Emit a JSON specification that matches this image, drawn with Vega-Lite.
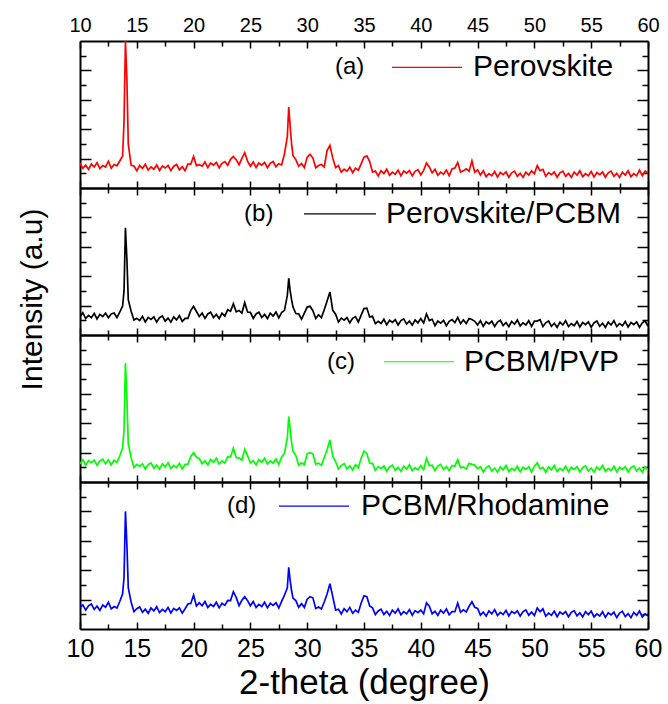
{
"$schema": "https://vega.github.io/schema/vega-lite/v6.json",
"background": "white",
"padding": {"left": 16, "top": 15, "right": 10, "bottom": 5},
"bounds": "flush",
"spacing": 0,
"config": {
 "font": "Liberation Sans",
 "view": {"stroke": null},
 "axis": {"domainColor": "black", "domainWidth": 2, "tickColor": "black", "tickWidth": 1.5, "grid": false, "labelColor": "black", "titleColor": "black", "labelFont": "Liberation Sans", "titleFont": "Liberation Sans", "titleFontWeight": "normal", "labelFlush": false}
},
"datasets": {
 "xrd": [
{"x":10,"a":17.0,"b":12.3,"c":12.3,"d":14.6},
{"x":10.25,"a":13.4,"b":15.2,"c":15.2,"d":16.4},
{"x":10.5,"a":15.5,"b":11.2,"c":11.4,"d":12.8},
{"x":10.75,"a":12.7,"b":13.3,"c":14.5,"d":15.8},
{"x":11,"a":16.3,"b":11.8,"c":13.1,"d":17.0},
{"x":11.25,"a":14.3,"b":14.7,"c":14.9,"d":13.4},
{"x":11.5,"a":17.2,"b":10.9,"c":11.3,"d":15.5},
{"x":11.75,"a":13.2,"b":14.0,"c":14.3,"d":12.7},
{"x":12,"a":15.3,"b":12.6,"c":15.5,"d":16.3},
{"x":12.25,"a":14.3,"b":14.9,"c":12.4,"d":14.8},
{"x":12.5,"a":18.2,"b":11.8,"c":15.0,"d":18.2},
{"x":12.75,"a":13.4,"b":14.3,"c":11.7,"d":13.7},
{"x":13,"a":16.0,"b":15.0,"c":14.8,"d":15.3},
{"x":13.25,"a":15.1,"b":11.9,"c":13.3,"d":14.3},
{"x":13.5,"a":18.4,"b":15.5,"c":17.7,"d":18.7},
{"x":13.75,"a":21.8,"b":19.7,"c":23.2,"d":23.9},
{"x":13.875,"a":45,"b":30,"c":35,"d":35},
{"x":14,"a":100,"b":73,"c":81,"d":80},
{"x":14.125,"a":75,"b":52,"c":58,"d":58},
{"x":14.25,"a":30,"b":24,"c":26,"d":28},
{"x":14.5,"a":15.4,"b":16.2,"c":16.7,"d":18.4},
{"x":14.75,"a":15.0,"b":10.2,"c":9.9,"d":11.8},
{"x":15,"a":11.7,"b":11.3,"c":12.0,"d":13.8},
{"x":15.25,"a":15.3,"b":9.8,"c":10.6,"d":15.0},
{"x":15.5,"a":13.3,"b":12.7,"c":12.4,"d":11.4},
{"x":15.75,"a":16.2,"b":8.9,"c":8.8,"d":13.5},
{"x":16,"a":12.2,"b":12.0,"c":11.8,"d":10.7},
{"x":16.25,"a":14.3,"b":10.6,"c":13.0,"d":14.3},
{"x":16.5,"a":12.8,"b":12.4,"c":9.4,"d":12.3},
{"x":16.75,"a":15.7,"b":8.8,"c":11.5,"d":15.2},
{"x":17,"a":11.9,"b":11.8,"c":8.7,"d":11.2},
{"x":17.25,"a":15.0,"b":13.0,"c":12.3,"d":13.3},
{"x":17.5,"a":13.6,"b":9.4,"c":10.3,"d":11.8},
{"x":17.75,"a":15.4,"b":11.5,"c":13.2,"d":14.7},
{"x":18,"a":11.8,"b":8.7,"c":9.2,"d":10.9},
{"x":18.25,"a":14.8,"b":12.3,"c":11.3,"d":14.0},
{"x":18.5,"a":16.0,"b":10.3,"c":9.8,"d":12.6},
{"x":18.75,"a":12.4,"b":13.2,"c":12.7,"d":14.4},
{"x":19,"a":14.5,"b":9.2,"c":8.9,"d":10.8},
{"x":19.25,"a":11.7,"b":11.3,"c":12.0,"d":13.8},
{"x":19.5,"a":16.3,"b":11.3,"c":12.1,"d":17.0},
{"x":19.75,"a":16.3,"b":16.7,"c":17.4,"d":17.4},
{"x":20,"a":21.5,"b":19.5,"c":20.0,"d":23.1},
{"x":20.25,"a":15.2,"b":16.0,"c":16.8,"d":15.7},
{"x":20.5,"a":15.8,"b":12.6,"c":16.0,"d":17.8},
{"x":20.75,"a":14.8,"b":14.9,"c":12.4,"d":15.8},
{"x":21,"a":17.7,"b":11.3,"c":14.5,"d":18.7},
{"x":21.25,"a":13.9,"b":14.3,"c":11.7,"d":14.7},
{"x":21.5,"a":17.0,"b":15.5,"c":15.3,"d":16.8},
{"x":21.75,"a":15.6,"b":11.9,"c":13.3,"d":15.3},
{"x":22,"a":17.4,"b":14.0,"c":16.2,"d":18.2},
{"x":22.25,"a":13.8,"b":11.2,"c":12.2,"d":14.4},
{"x":22.5,"a":16.8,"b":14.8,"c":14.3,"d":17.5},
{"x":22.75,"a":18.0,"b":12.8,"c":12.8,"d":16.1},
{"x":23,"a":15.4,"b":17.2,"c":17.2,"d":19.4},
{"x":23.25,"a":19.5,"b":16.2,"c":16.9,"d":19.3},
{"x":23.5,"a":21.5,"b":21.3,"c":23.0,"d":25.4},
{"x":23.75,"a":19.3,"b":15.8,"c":16.6,"d":21.5},
{"x":24,"a":15.8,"b":16.7,"c":16.4,"d":15.9},
{"x":24.25,"a":20.2,"b":14.9,"c":14.8,"d":19.5},
{"x":24.5,"a":24.0,"b":22.0,"c":22.3,"d":22.0},
{"x":24.75,"a":18.3,"b":15.6,"c":18.0,"d":19.3},
{"x":25,"a":14.8,"b":15.4,"c":12.9,"d":15.8},
{"x":25.25,"a":17.7,"b":11.3,"c":14.5,"d":18.7},
{"x":25.5,"a":13.9,"b":14.3,"c":11.7,"d":14.7},
{"x":25.75,"a":17.0,"b":15.5,"c":15.3,"d":16.8},
{"x":26,"a":15.6,"b":11.9,"c":13.3,"d":15.3},
{"x":26.25,"a":17.4,"b":14.0,"c":16.2,"d":18.2},
{"x":26.5,"a":13.8,"b":11.2,"c":12.2,"d":14.4},
{"x":26.75,"a":16.8,"b":14.8,"c":14.3,"d":17.5},
{"x":27,"a":18.0,"b":12.8,"c":12.8,"d":16.1},
{"x":27.25,"a":14.4,"b":15.7,"c":15.7,"d":17.9},
{"x":27.5,"a":16.5,"b":11.7,"c":11.9,"d":14.3},
{"x":27.75,"a":15.7,"b":15.3,"c":17.0,"d":18.8},
{"x":28,"a":23.3,"b":16.8,"c":19.6,"d":23.0},
{"x":28.25,"a":35,"b":27,"c":30,"d":28},
{"x":28.375,"a":55,"b":38.5,"c":44.6,"d":42},
{"x":28.5,"a":42,"b":30,"c":36,"d":33},
{"x":28.625,"a":30,"b":24,"c":27,"d":26},
{"x":28.75,"a":22,"b":19,"c":21,"d":21},
{"x":29,"a":19.3,"b":14.6,"c":18.0,"d":19.3},
{"x":29.25,"a":14.8,"b":14.4,"c":11.4,"d":14.8},
{"x":29.5,"a":16.7,"b":10.8,"c":13.0,"d":17.2},
{"x":29.75,"a":13.9,"b":14.8,"c":11.7,"d":14.7},
{"x":30,"a":21.0,"b":19.0,"c":19.3,"d":20.3},
{"x":30.25,"a":23.0,"b":19.5,"c":20.0,"d":22.0},
{"x":30.5,"a":20.4,"b":16.5,"c":19.2,"d":21.2},
{"x":30.75,"a":13.8,"b":11.2,"c":12.2,"d":13.9},
{"x":31,"a":15.3,"b":13.8,"c":12.8,"d":15.0},
{"x":31.25,"a":16.0,"b":11.8,"c":11.3,"d":13.6},
{"x":31.5,"a":14.4,"b":17.2,"c":16.7,"d":18.4},
{"x":31.75,"a":25.5,"b":23.2,"c":21.9,"d":23.8},
{"x":32,"a":29.0,"b":29.3,"c":28.7,"d":30.8},
{"x":32.25,"a":20.3,"b":16.8,"c":17.6,"d":22.0},
{"x":32.5,"a":13.8,"b":14.2,"c":13.9,"d":12.9},
{"x":32.75,"a":15.2,"b":8.9,"c":8.8,"d":13.5},
{"x":33,"a":10.7,"b":11.5,"c":11.3,"d":10.2},
{"x":33.25,"a":12.8,"b":10.1,"c":12.5,"d":13.8},
{"x":33.5,"a":11.3,"b":11.9,"c":8.9,"d":11.8},
{"x":33.75,"a":14.2,"b":8.3,"c":11.0,"d":14.7},
{"x":34,"a":10.4,"b":11.3,"c":8.2,"d":10.7},
{"x":34.25,"a":13.5,"b":12.5,"c":11.8,"d":12.8},
{"x":34.5,"a":12.1,"b":8.9,"c":9.8,"d":11.3},
{"x":34.75,"a":16.4,"b":13.5,"c":16.2,"d":17.7},
{"x":35,"a":21.0,"b":18.0,"c":21.0,"d":22.6},
{"x":35.25,"a":21.8,"b":18.3,"c":19.3,"d":22.0},
{"x":35.5,"a":18.0,"b":12.3,"c":12.8,"d":15.6},
{"x":35.75,"a":10.9,"b":12.7,"c":12.7,"d":14.4},
{"x":36,"a":11.5,"b":7.7,"c":7.9,"d":9.8},
{"x":36.25,"a":8.2,"b":9.3,"c":10.5,"d":12.3},
{"x":36.5,"a":11.8,"b":7.8,"c":9.1,"d":13.5},
{"x":36.75,"a":9.8,"b":10.7,"c":10.9,"d":9.9},
{"x":37,"a":12.7,"b":6.9,"c":7.3,"d":12.0},
{"x":37.25,"a":8.7,"b":10.0,"c":10.3,"d":9.2},
{"x":37.5,"a":10.8,"b":8.6,"c":11.5,"d":12.8},
{"x":37.75,"a":9.3,"b":10.4,"c":7.9,"d":10.8},
{"x":38,"a":12.2,"b":6.8,"c":10.0,"d":13.7},
{"x":38.25,"a":8.4,"b":9.8,"c":7.2,"d":9.7},
{"x":38.5,"a":11.5,"b":11.0,"c":10.8,"d":11.8},
{"x":38.75,"a":10.1,"b":7.4,"c":8.8,"d":10.3},
{"x":39,"a":11.9,"b":9.5,"c":11.7,"d":13.2},
{"x":39.25,"a":8.3,"b":6.7,"c":7.7,"d":9.4},
{"x":39.5,"a":11.3,"b":10.3,"c":9.8,"d":12.5},
{"x":39.75,"a":12.5,"b":8.3,"c":8.3,"d":11.1},
{"x":40,"a":8.9,"b":11.2,"c":11.2,"d":12.9},
{"x":40.25,"a":12.0,"b":8.2,"c":8.4,"d":10.3},
{"x":40.5,"a":17.0,"b":14.3,"c":16.0,"d":17.8},
{"x":40.75,"a":14.3,"b":9.8,"c":11.1,"d":15.5},
{"x":41,"a":10.3,"b":10.7,"c":11.4,"d":10.4},
{"x":41.25,"a":12.7,"b":6.4,"c":7.8,"d":12.0},
{"x":41.5,"a":8.7,"b":9.5,"c":10.8,"d":9.2},
{"x":41.75,"a":10.8,"b":8.1,"c":12.0,"d":12.8},
{"x":42,"a":9.3,"b":9.9,"c":8.4,"d":10.8},
{"x":42.25,"a":12.2,"b":6.3,"c":10.5,"d":13.7},
{"x":42.5,"a":8.4,"b":9.3,"c":7.7,"d":9.7},
{"x":42.75,"a":13.0,"b":10.5,"c":11.3,"d":11.8},
{"x":43,"a":13.6,"b":8.4,"c":10.8,"d":11.8},
{"x":43.25,"a":17.4,"b":12.0,"c":15.2,"d":17.7},
{"x":43.5,"a":10.8,"b":7.7,"c":9.7,"d":11.4},
{"x":43.75,"a":11.8,"b":10.3,"c":10.3,"d":13.0},
{"x":44,"a":13.0,"b":7.8,"c":8.8,"d":11.6},
{"x":44.25,"a":11.4,"b":11.2,"c":12.7,"d":15.4},
{"x":44.5,"a":18.5,"b":10.5,"c":12.0,"d":18.5},
{"x":44.75,"a":10.7,"b":9.3,"c":11.5,"d":14.8},
{"x":45,"a":12.3,"b":6.8,"c":9.1,"d":14.0},
{"x":45.25,"a":8.8,"b":9.7,"c":10.4,"d":9.4},
{"x":45.5,"a":11.7,"b":5.9,"c":6.8,"d":11.5},
{"x":45.75,"a":7.7,"b":9.0,"c":9.8,"d":8.7},
{"x":46,"a":9.8,"b":7.6,"c":11.0,"d":12.3},
{"x":46.25,"a":8.3,"b":9.4,"c":7.4,"d":10.3},
{"x":46.5,"a":11.2,"b":5.8,"c":9.5,"d":13.2},
{"x":46.75,"a":7.4,"b":8.8,"c":6.7,"d":9.2},
{"x":47,"a":10.5,"b":10.0,"c":10.3,"d":11.3},
{"x":47.25,"a":9.1,"b":6.4,"c":8.3,"d":9.8},
{"x":47.5,"a":10.9,"b":8.5,"c":11.2,"d":12.7},
{"x":47.75,"a":7.3,"b":5.7,"c":7.2,"d":8.9},
{"x":48,"a":10.3,"b":9.3,"c":9.3,"d":12.0},
{"x":48.25,"a":11.5,"b":7.3,"c":7.8,"d":10.6},
{"x":48.5,"a":7.9,"b":10.2,"c":10.7,"d":12.4},
{"x":48.75,"a":10.0,"b":6.2,"c":6.9,"d":8.8},
{"x":49,"a":7.2,"b":8.3,"c":10.0,"d":11.8},
{"x":49.25,"a":10.8,"b":6.8,"c":8.6,"d":13.0},
{"x":49.5,"a":8.8,"b":9.7,"c":10.4,"d":9.4},
{"x":49.75,"a":11.7,"b":5.9,"c":6.8,"d":11.5},
{"x":50,"a":9.7,"b":9.5,"c":10.8,"d":9.2},
{"x":50.25,"a":15.3,"b":9.5,"c":13.0,"d":14.3},
{"x":50.5,"a":11.8,"b":10.4,"c":8.9,"d":11.8},
{"x":50.75,"a":12.7,"b":5.8,"c":10.0,"d":13.7},
{"x":51,"a":7.9,"b":8.3,"c":6.7,"d":8.7},
{"x":51.25,"a":10.5,"b":9.5,"c":10.3,"d":10.8},
{"x":51.5,"a":9.1,"b":5.9,"c":8.3,"d":9.3},
{"x":51.75,"a":10.9,"b":8.0,"c":11.2,"d":12.2},
{"x":52,"a":7.3,"b":5.2,"c":7.2,"d":8.4},
{"x":52.25,"a":10.3,"b":8.8,"c":9.3,"d":11.5},
{"x":52.5,"a":11.5,"b":6.8,"c":7.8,"d":10.1},
{"x":52.75,"a":7.9,"b":9.7,"c":10.7,"d":11.9},
{"x":53,"a":10.0,"b":5.7,"c":6.9,"d":8.3},
{"x":53.25,"a":7.2,"b":7.8,"c":10.0,"d":11.3},
{"x":53.5,"a":10.8,"b":6.3,"c":8.6,"d":12.5},
{"x":53.75,"a":8.8,"b":9.2,"c":10.4,"d":8.9},
{"x":54,"a":11.7,"b":5.4,"c":6.8,"d":11.0},
{"x":54.25,"a":7.7,"b":8.5,"c":9.8,"d":8.2},
{"x":54.5,"a":9.8,"b":7.1,"c":11.0,"d":11.8},
{"x":54.75,"a":8.3,"b":8.9,"c":7.4,"d":9.8},
{"x":55,"a":11.2,"b":5.3,"c":9.5,"d":12.2},
{"x":55.25,"a":7.4,"b":8.3,"c":6.7,"d":8.2},
{"x":55.5,"a":10.5,"b":9.5,"c":10.3,"d":10.3},
{"x":55.75,"a":9.1,"b":5.9,"c":8.3,"d":8.8},
{"x":56,"a":10.9,"b":8.0,"c":11.2,"d":11.7},
{"x":56.25,"a":7.3,"b":5.2,"c":7.2,"d":7.9},
{"x":56.5,"a":10.3,"b":8.8,"c":9.3,"d":11.0},
{"x":56.75,"a":11.5,"b":6.8,"c":7.8,"d":9.6},
{"x":57,"a":7.9,"b":9.7,"c":10.7,"d":11.4},
{"x":57.25,"a":10.0,"b":5.7,"c":6.9,"d":7.8},
{"x":57.5,"a":7.2,"b":7.8,"c":10.0,"d":10.8},
{"x":57.75,"a":10.8,"b":6.3,"c":8.6,"d":12.0},
{"x":58,"a":8.8,"b":9.2,"c":10.4,"d":8.4},
{"x":58.25,"a":11.7,"b":5.4,"c":6.8,"d":10.5},
{"x":58.5,"a":7.7,"b":8.5,"c":9.8,"d":7.7},
{"x":58.75,"a":9.8,"b":7.1,"c":11.0,"d":11.3},
{"x":59,"a":8.3,"b":8.9,"c":7.4,"d":9.3},
{"x":59.25,"a":12.2,"b":5.3,"c":9.5,"d":12.2},
{"x":59.5,"a":8.4,"b":8.3,"c":6.7,"d":8.2},
{"x":59.75,"a":11.5,"b":9.5,"c":10.3,"d":10.3},
{"x":60,"a":10.1,"b":5.9,"c":8.3,"d":8.8}
 ],
 "tags": [
  {"p":"a","t":"(a)","x":32.45,"y":82},
  {"p":"b","t":"(b)","x":24.44,"y":82.4},
  {"p":"c","t":"(c)","x":31.74,"y":81.8},
  {"p":"d","t":"(d)","x":22.94,"y":83.6}
 ],
 "names": [
  {"p":"a","t":"Perovskite","x":44.6,"y":82},
  {"p":"b","t":"Perovskite/PCBM","x":36.94,"y":82.4},
  {"p":"c","t":"PCBM/PVP","x":43.8,"y":81.8},
  {"p":"d","t":"PCBM/Rhodamine","x":34.74,"y":83.6}
 ],
 "keys": [
  {"p":"a","x":37.46,"x2":43.63,"y":82},
  {"p":"b","x":29.72,"x2":36.06,"y":82.4},
  {"p":"c","x":36.76,"x2":42.92,"y":81.8},
  {"p":"d","x":27.52,"x2":33.68,"y":83.6}
 ]
},
"vconcat": [
 {
  "width": 568, "height": 147,
  "resolve": {"axis": {"x": "independent", "y": "independent"}},
  "layer": [
   {"data": {"name": "xrd"}, "mark": {"type": "line", "color": "#ff0000", "strokeWidth": 1.7, "clip": true},
    "encoding": {
     "x": {"field": "x", "type": "quantitative", "scale": {"domain": [10, 60], "nice": false}, "axis": {"orient": "bottom", "title": null, "labels": false, "values": [10,12.5,15,17.5,20,22.5,25,27.5,30,32.5,35,37.5,40,42.5,45,47.5,50,52.5,55,57.5,60], "tickSize": {"condition": {"test": "datum.value % 5 === 0", "value": -7}, "value": -5}}},
     "y": {"field": "a", "type": "quantitative", "scale": {"domain": [0, 100], "nice": false}, "axis": {"orient": "left", "title": null, "labels": false, "values": [10,20,30,40,50,60,70,80,90], "tickSize": {"condition": {"test": "datum.value % 20 === 0", "value": -11}, "value": -6}}}
    }},
   {"data": {"name": "names"}, "transform": [{"filter": "datum.p === 'a'"}], "mark": {"type": "text", "align": "left", "baseline": "middle", "fontSize": 30, "color": "black"},
    "encoding": {
     "x": {"field": "x", "type": "quantitative", "scale": {"domain": [10, 60], "nice": false}, "axis": {"orient": "top", "title": null, "labelFontSize": 20, "labelPadding": 13, "labelExpr": "datum.value % 5 === 0 ? datum.label : ''", "values": [10,12.5,15,17.5,20,22.5,25,27.5,30,32.5,35,37.5,40,42.5,45,47.5,50,52.5,55,57.5,60], "tickSize": {"condition": {"test": "datum.value % 5 === 0", "value": -7}, "value": -5}}},
     "y": {"field": "y", "type": "quantitative", "scale": {"domain": [0, 100], "nice": false}, "axis": {"orient": "right", "title": null, "labels": false, "values": [10,20,30,40,50,60,70,80,90], "tickSize": {"condition": {"test": "datum.value % 20 === 0", "value": -11}, "value": -6}}},
     "text": {"field": "t"}
    }},
   {"data": {"name": "tags"}, "transform": [{"filter": "datum.p === 'a'"}], "mark": {"type": "text", "align": "left", "baseline": "middle", "fontSize": 24, "color": "black"},
    "encoding": {
     "x": {"field": "x", "type": "quantitative", "axis": null},
     "y": {"field": "y", "type": "quantitative", "axis": null},
     "text": {"field": "t"}
    }},
   {"data": {"name": "keys"}, "transform": [{"filter": "datum.p === 'a'"}], "mark": {"type": "rule", "color": "#ff0000", "strokeWidth": 1.2},
    "encoding": {
     "x": {"field": "x", "type": "quantitative", "axis": null},
     "x2": {"field": "x2"},
     "y": {"field": "y", "type": "quantitative", "axis": null}
    }}
  ]
 },
 {
  "width": 568, "height": 147,
  "resolve": {"axis": {"x": "independent", "y": "independent"}},
  "layer": [
   {"data": {"name": "xrd"}, "mark": {"type": "line", "color": "#000000", "strokeWidth": 1.7, "clip": true},
    "encoding": {
     "x": {"field": "x", "type": "quantitative", "scale": {"domain": [10, 60], "nice": false}, "axis": {"orient": "bottom", "title": null, "labels": false, "values": [10,12.5,15,17.5,20,22.5,25,27.5,30,32.5,35,37.5,40,42.5,45,47.5,50,52.5,55,57.5,60], "tickSize": {"condition": {"test": "datum.value % 5 === 0", "value": -7}, "value": -5}}},
     "y": {"field": "b", "type": "quantitative", "scale": {"domain": [0, 100], "nice": false}, "axis": {"orient": "left", "title": "Intensity (a.u)", "titleFontSize": 30, "titleX": -48, "titleY": 111, "titleAngle": 270, "titleAlign": "center", "titleBaseline": "middle", "labels": false, "values": [10,20,30,40,50,60,70,80,90], "tickSize": {"condition": {"test": "datum.value % 20 === 0", "value": -11}, "value": -6}}}
    }},
   {"data": {"name": "names"}, "transform": [{"filter": "datum.p === 'b'"}], "mark": {"type": "text", "align": "left", "baseline": "middle", "fontSize": 30, "color": "black"},
    "encoding": {
     "x": {"field": "x", "type": "quantitative", "scale": {"domain": [10, 60], "nice": false}, "axis": {"orient": "top", "title": null, "labels": false, "values": [10,12.5,15,17.5,20,22.5,25,27.5,30,32.5,35,37.5,40,42.5,45,47.5,50,52.5,55,57.5,60], "tickSize": {"condition": {"test": "datum.value % 5 === 0", "value": -7}, "value": -5}}},
     "y": {"field": "y", "type": "quantitative", "scale": {"domain": [0, 100], "nice": false}, "axis": {"orient": "right", "title": null, "labels": false, "values": [10,20,30,40,50,60,70,80,90], "tickSize": {"condition": {"test": "datum.value % 20 === 0", "value": -11}, "value": -6}}},
     "text": {"field": "t"}
    }},
   {"data": {"name": "tags"}, "transform": [{"filter": "datum.p === 'b'"}], "mark": {"type": "text", "align": "left", "baseline": "middle", "fontSize": 24, "color": "black"},
    "encoding": {
     "x": {"field": "x", "type": "quantitative", "axis": null},
     "y": {"field": "y", "type": "quantitative", "axis": null},
     "text": {"field": "t"}
    }},
   {"data": {"name": "keys"}, "transform": [{"filter": "datum.p === 'b'"}], "mark": {"type": "rule", "color": "#000000", "strokeWidth": 1.2},
    "encoding": {
     "x": {"field": "x", "type": "quantitative", "axis": null},
     "x2": {"field": "x2"},
     "y": {"field": "y", "type": "quantitative", "axis": null}
    }}
  ]
 },
 {
  "width": 568, "height": 147,
  "resolve": {"axis": {"x": "independent", "y": "independent"}},
  "layer": [
   {"data": {"name": "xrd"}, "mark": {"type": "line", "color": "#00ff00", "strokeWidth": 1.7, "clip": true},
    "encoding": {
     "x": {"field": "x", "type": "quantitative", "scale": {"domain": [10, 60], "nice": false}, "axis": {"orient": "bottom", "title": null, "labels": false, "values": [10,12.5,15,17.5,20,22.5,25,27.5,30,32.5,35,37.5,40,42.5,45,47.5,50,52.5,55,57.5,60], "tickSize": {"condition": {"test": "datum.value % 5 === 0", "value": -7}, "value": -5}}},
     "y": {"field": "c", "type": "quantitative", "scale": {"domain": [0, 100], "nice": false}, "axis": {"orient": "left", "title": null, "labels": false, "values": [10,20,30,40,50,60,70,80,90], "tickSize": {"condition": {"test": "datum.value % 20 === 0", "value": -11}, "value": -6}}}
    }},
   {"data": {"name": "names"}, "transform": [{"filter": "datum.p === 'c'"}], "mark": {"type": "text", "align": "left", "baseline": "middle", "fontSize": 30, "color": "black"},
    "encoding": {
     "x": {"field": "x", "type": "quantitative", "scale": {"domain": [10, 60], "nice": false}, "axis": {"orient": "top", "title": null, "labels": false, "values": [10,12.5,15,17.5,20,22.5,25,27.5,30,32.5,35,37.5,40,42.5,45,47.5,50,52.5,55,57.5,60], "tickSize": {"condition": {"test": "datum.value % 5 === 0", "value": -7}, "value": -5}}},
     "y": {"field": "y", "type": "quantitative", "scale": {"domain": [0, 100], "nice": false}, "axis": {"orient": "right", "title": null, "labels": false, "values": [10,20,30,40,50,60,70,80,90], "tickSize": {"condition": {"test": "datum.value % 20 === 0", "value": -11}, "value": -6}}},
     "text": {"field": "t"}
    }},
   {"data": {"name": "tags"}, "transform": [{"filter": "datum.p === 'c'"}], "mark": {"type": "text", "align": "left", "baseline": "middle", "fontSize": 24, "color": "black"},
    "encoding": {
     "x": {"field": "x", "type": "quantitative", "axis": null},
     "y": {"field": "y", "type": "quantitative", "axis": null},
     "text": {"field": "t"}
    }},
   {"data": {"name": "keys"}, "transform": [{"filter": "datum.p === 'c'"}], "mark": {"type": "rule", "color": "#00ff00", "strokeWidth": 1.2},
    "encoding": {
     "x": {"field": "x", "type": "quantitative", "axis": null},
     "x2": {"field": "x2"},
     "y": {"field": "y", "type": "quantitative", "axis": null}
    }}
  ]
 },
 {
  "width": 568, "height": 147,
  "resolve": {"axis": {"x": "independent", "y": "independent"}},
  "layer": [
   {"data": {"name": "xrd"}, "mark": {"type": "line", "color": "#0000ff", "strokeWidth": 1.7, "clip": true},
    "encoding": {
     "x": {"field": "x", "type": "quantitative", "scale": {"domain": [10, 60], "nice": false}, "axis": {"orient": "bottom", "title": "2-theta (degree)", "titleFontSize": 35, "titlePadding": 4, "labelFontSize": 25, "labelPadding": 14, "labelExpr": "datum.value % 5 === 0 ? datum.label : ''", "values": [10,12.5,15,17.5,20,22.5,25,27.5,30,32.5,35,37.5,40,42.5,45,47.5,50,52.5,55,57.5,60], "tickSize": {"condition": {"test": "datum.value % 5 === 0", "value": -7}, "value": -5}}},
     "y": {"field": "d", "type": "quantitative", "scale": {"domain": [0, 100], "nice": false}, "axis": {"orient": "left", "title": null, "labels": false, "values": [10,20,30,40,50,60,70,80,90], "tickSize": {"condition": {"test": "datum.value % 20 === 0", "value": -11}, "value": -6}}}
    }},
   {"data": {"name": "names"}, "transform": [{"filter": "datum.p === 'd'"}], "mark": {"type": "text", "align": "left", "baseline": "middle", "fontSize": 30, "color": "black"},
    "encoding": {
     "x": {"field": "x", "type": "quantitative", "scale": {"domain": [10, 60], "nice": false}, "axis": {"orient": "top", "title": null, "labels": false, "values": [10,12.5,15,17.5,20,22.5,25,27.5,30,32.5,35,37.5,40,42.5,45,47.5,50,52.5,55,57.5,60], "tickSize": {"condition": {"test": "datum.value % 5 === 0", "value": -7}, "value": -5}}},
     "y": {"field": "y", "type": "quantitative", "scale": {"domain": [0, 100], "nice": false}, "axis": {"orient": "right", "title": null, "labels": false, "values": [10,20,30,40,50,60,70,80,90], "tickSize": {"condition": {"test": "datum.value % 20 === 0", "value": -11}, "value": -6}}},
     "text": {"field": "t"}
    }},
   {"data": {"name": "tags"}, "transform": [{"filter": "datum.p === 'd'"}], "mark": {"type": "text", "align": "left", "baseline": "middle", "fontSize": 24, "color": "black"},
    "encoding": {
     "x": {"field": "x", "type": "quantitative", "axis": null},
     "y": {"field": "y", "type": "quantitative", "axis": null},
     "text": {"field": "t"}
    }},
   {"data": {"name": "keys"}, "transform": [{"filter": "datum.p === 'd'"}], "mark": {"type": "rule", "color": "#0000ff", "strokeWidth": 1.2},
    "encoding": {
     "x": {"field": "x", "type": "quantitative", "axis": null},
     "x2": {"field": "x2"},
     "y": {"field": "y", "type": "quantitative", "axis": null}
    }}
  ]
 }
]
}
